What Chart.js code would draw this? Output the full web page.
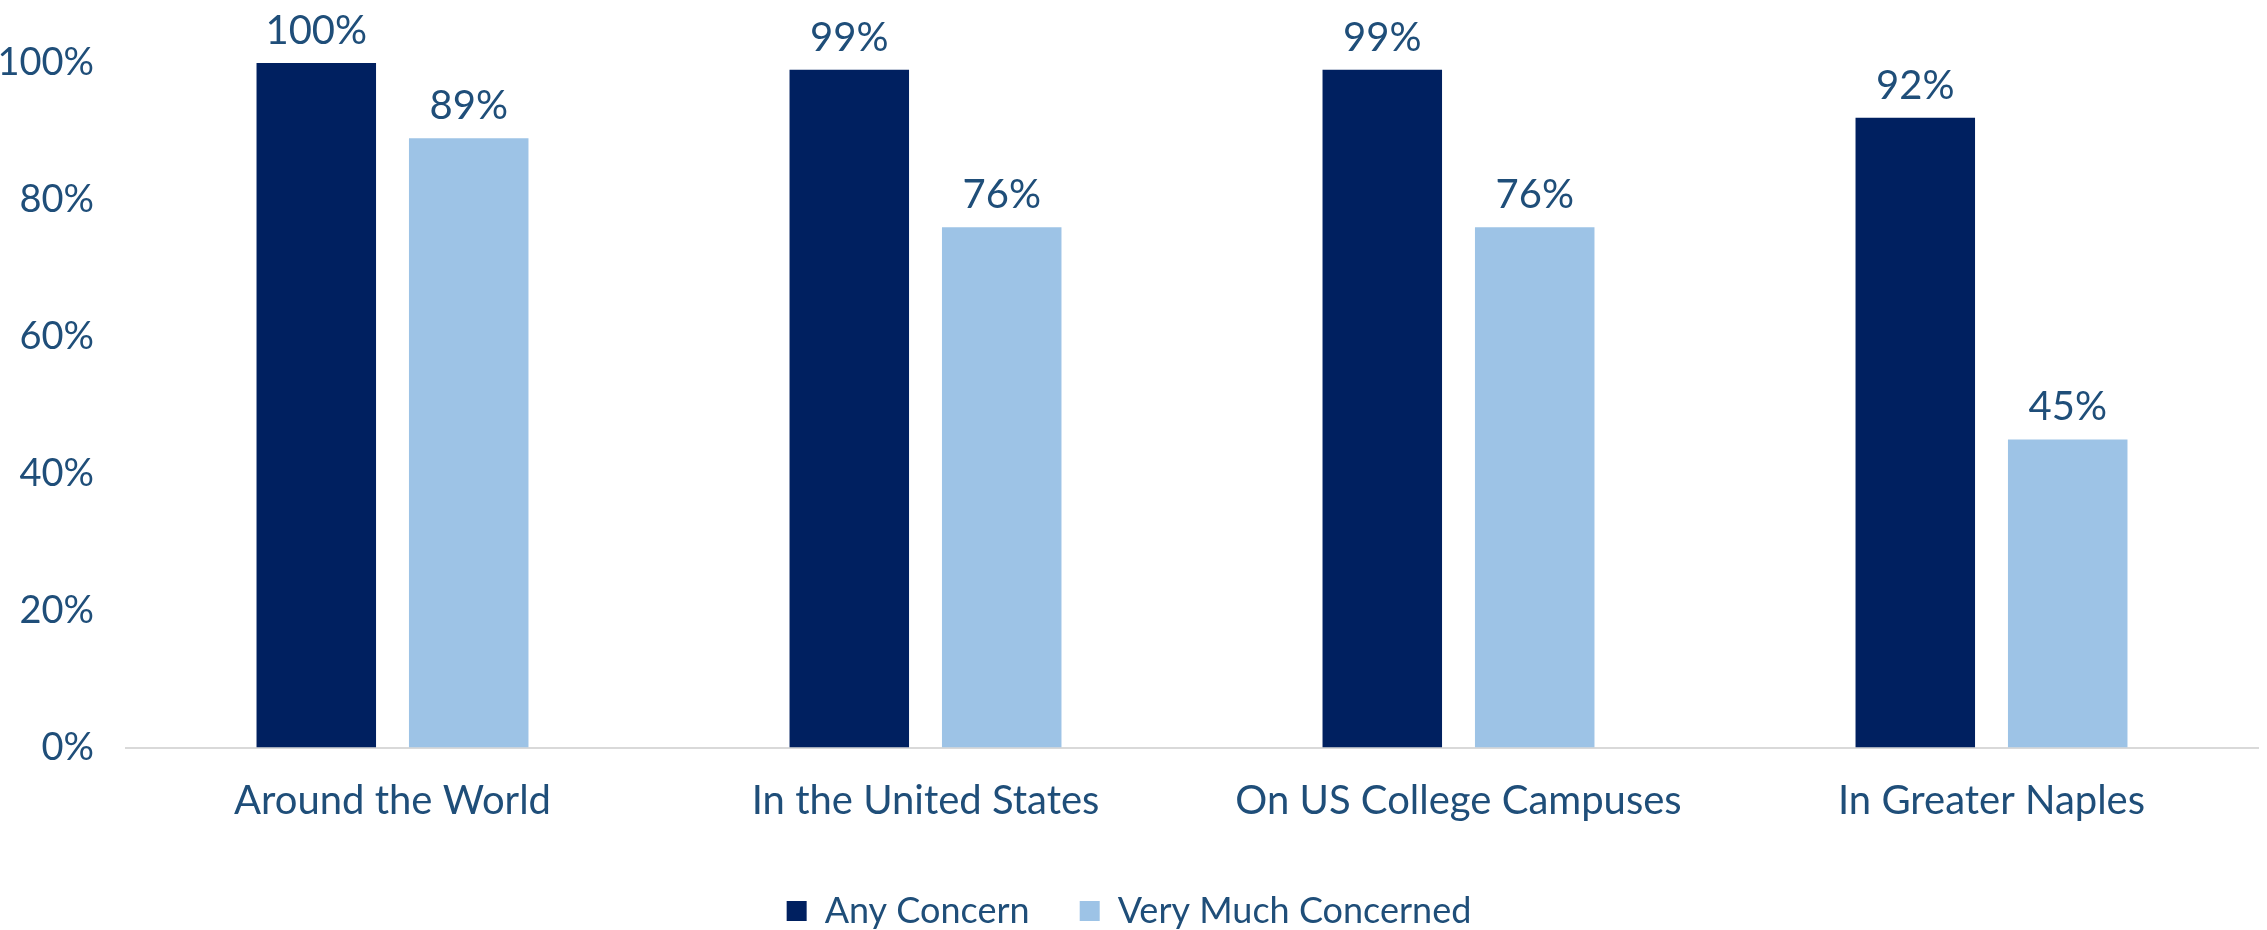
<!DOCTYPE html>
<html lang="en">
<head>
  <meta charset="UTF-8">
  <title>Concern by Location</title>
  <script src="https://cdn.jsdelivr.net/npm/chart.js"></script>
  <style>
    html, body { margin: 0; padding: 0; background: #ffffff; }
    #wrap { width: 2267px; height: 930px; }
  </style>
</head>
<body>
  <div id="wrap"><canvas id="concernChart" width="2267" height="930"></canvas></div>

  <script>
    var categories = ['Around the World', 'In the United States', 'On US College Campuses', 'In Greater Naples'];
    var anyConcern = [100, 99, 99, 92];
    var veryMuchConcerned = [89, 76, 76, 45];
    var seriesNames = ['Any Concern', 'Very Much Concerned'];
    var yTicks = [0, 20, 40, 60, 80, 100];

    var textColor = '#1f4e79';
    var fontFamily = 'Lato, "Open Sans", sans-serif';

    // draws the value above each bar
    var barLabels = {
      id: 'barLabels',
      afterDatasetsDraw: function(chart) {
        var ctx = chart.ctx;
        ctx.save();
        ctx.fillStyle = textColor;
        ctx.font = '40px ' + fontFamily;
        ctx.textAlign = 'center';
        ctx.textBaseline = 'bottom';
        chart.data.datasets.forEach(function(ds, i) {
          chart.getDatasetMeta(i).data.forEach(function(bar, j) {
            ctx.fillText(ds.data[j] + '%', bar.x, bar.y - 12);
          });
        });
        ctx.restore();
      }
    };

    new Chart(document.getElementById('concernChart').getContext('2d'), {
      type: 'bar',
      data: {
        labels: categories,
        datasets: [
          {
            label: seriesNames[0],
            data: anyConcern,
            backgroundColor: '#002060',
            categoryPercentage: 0.572,
            barPercentage: 0.784
          },
          {
            label: seriesNames[1],
            data: veryMuchConcerned,
            backgroundColor: '#9dc3e6',
            categoryPercentage: 0.572,
            barPercentage: 0.784
          }
        ]
      },
      options: {
        responsive: false,
        animation: false,
        layout: { padding: { top: 63, right: 9, left: 0, bottom: -9 } },
        plugins: {
          tooltip: { enabled: false },
          legend: {
            position: 'bottom',
            labels: {
              color: textColor,
              font: { family: fontFamily, size: 36 },
              boxWidth: 20,
              boxHeight: 20,
              padding: 4,
              generateLabels: function(chart) {
                var items = Chart.defaults.plugins.legend.labels.generateLabels(chart);
                // widen the gap after the first entry
                items[0].text = items[0].text + '     ';
                return items;
              }
            }
          }
        },
        scales: {
          x: {
            grid: { display: false, drawTicks: false },
            border: { display: true, color: '#d9d9d9', width: 2 },
            ticks: {
              color: textColor,
              font: { family: fontFamily, size: 40 },
              padding: 30,
              maxRotation: 0
            },
            afterFit: function(scale) { scale.height = 141.5; }
          },
          y: {
            min: 0,
            max: 100,
            afterBuildTicks: function(scale) {
              scale.ticks = yTicks.map(function(v) { return { value: v }; });
            },
            grid: { display: false, drawTicks: false },
            border: { display: false },
            ticks: {
              color: textColor,
              font: { family: fontFamily, size: 38 },
              padding: 32,
              callback: function(v) { return v + '%'; }
            },
            afterFit: function(scale) { scale.width = 126; }
          }
        }
      },
      plugins: [barLabels]
    });
  </script>
</body>
</html>
